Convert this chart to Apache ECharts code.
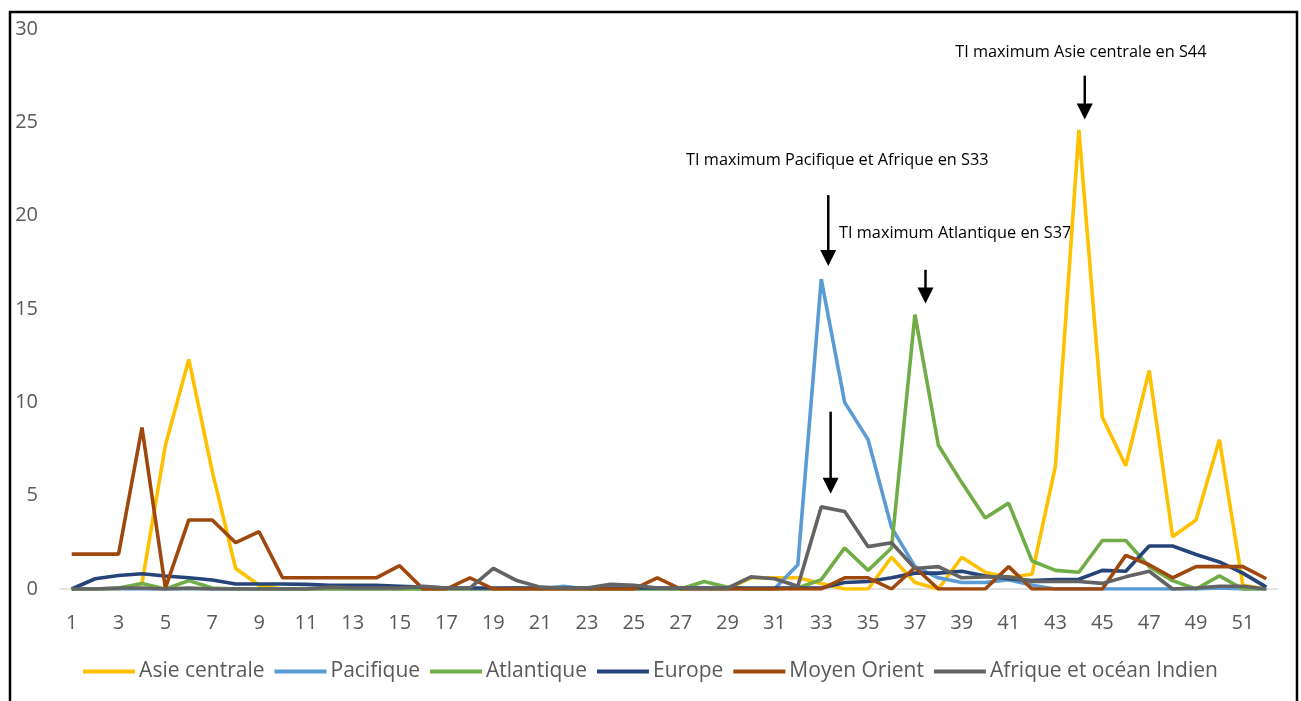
<!DOCTYPE html>
<html>
<head>
<meta charset="utf-8">
<script src="https://cdn.jsdelivr.net/npm/echarts@6/dist/echarts.min.js"></script>
<style>
html,body{margin:0;padding:0;background:#fff;}
#chart{width:1301px;height:701px;}
</style>
</head>
<body>
<div id="chart"></div>
<script>
const weeks = ['1','2','3','4','5','6','7','8','9','10','11','12','13','14','15','16','17','18','19','20','21','22','23','24','25','26','27','28','29','30','31','32','33','34','35','36','37','38','39','40','41','42','43','44','45','46','47','48','49','50','51','52'];

const asieCentrale = [0,0,0,0.3,7.7,12.3,6.3,1.1,0.2,0, 0,0,0,0,0,0,0,0,0,0, 0,0,0,0,0,0,0,0,0,0.6, 0.6,0.6,0.3,0,0,1.7,0.35,0,1.7,0.9, 0.6,0.8,6.6,24.6,9.2,6.6,11.7,2.8,3.7,8.0, 0.2,0];
const pacifique = [0,0,0,0,0,0,0,0,0,0, 0,0,0,0,0,0,0,0,0,0, 0,0.15,0,0,0,0,0,0,0,0, 0,1.3,16.6,10.0,8.0,3.3,1.2,0.6,0.35,0.35, 0.5,0.2,0,0,0,0,0,0,0,0.05, 0,0];
const atlantique = [0,0,0.05,0.3,0,0.45,0.05,0,0,0, 0,0,0,0,0,0,0,0,0,0.05, 0,0,0,0,0,0,0,0.4,0.1,0, 0,0.05,0.5,2.2,1.0,2.2,14.7,7.7,5.7,3.8, 4.6,1.5,1.0,0.9,2.6,2.6,1.2,0.45,0,0.7, 0,0];
const europe = [0,0.55,0.72,0.82,0.7,0.6,0.48,0.27,0.27,0.27, 0.25,0.2,0.2,0.2,0.15,0.1,0.05,0.05,0.05,0.05, 0.05,0.05,0.05,0.05,0.05,0.05,0.05,0.05,0.05,0.05, 0.05,0.05,0.05,0.35,0.4,0.6,0.85,0.85,0.95,0.7, 0.55,0.45,0.5,0.52,1.0,0.95,2.3,2.3,1.85,1.45, 0.85,0.1];
const moyenOrient = [1.87,1.87,1.87,8.65,0.05,3.7,3.7,2.48,3.07,0.6, 0.6,0.6,0.6,0.6,1.25,0,0,0.6,0,0, 0,0,0,0,0,0.6,0,0,0,0, 0,0,0,0.6,0.6,0,1.15,0,0,0, 1.2,0,0,0,0,1.8,1.3,0.6,1.2,1.2, 1.2,0.55];
const afrique = [0,0,0.05,0.05,0,0.05,0,0,0,0, 0,0.1,0.05,0.05,0.05,0.15,0.05,0.05,1.1,0.45, 0.1,0.05,0.05,0.25,0.2,0.05,0.05,0.05,0.05,0.65, 0.55,0.15,4.4,4.15,2.27,2.48,1.1,1.2,0.6,0.65, 0.65,0.4,0.4,0.4,0.3,0.65,0.95,0,0.05,0.15, 0.15,0];

const seriesNames = ['Asie centrale','Pacifique','Atlantique','Europe','Moyen Orient','Afrique et océan Indien'];
const seriesData = [asieCentrale, pacifique, atlantique, europe, moyenOrient, afrique];
const colors = ['#FFC000','#5B9BD5','#70AD47','#264478','#9E480E','#636363'];

const yTicks = [0,5,10,15,20,25,30];

// annotations: arrows (week position, top value, tip value) and texts (left week position, value)
const arrows = [
  {week:33.3, from:21.1, to:17.3},
  {week:33.4, from:9.5, to:5.1},
  {week:37.45, from:17.1, to:15.3},
  {week:44.25, from:27.5, to:25.15}
];
const notes = [
  {text:'TI maximum Asie centrale en S44', week:38.72, value:28.76},
  {text:'TI maximum Pacifique et Afrique en S33', week:27.23, value:22.98},
  {text:'TI maximum Atlantique en S37', week:33.76, value:19.07}
];

const FONT = '"Open Sans", sans-serif';
const chart = echarts.init(document.getElementById('chart'));

chart.setOption({
  animation:false,
  backgroundColor:'#fff',
  color: colors,
  grid:{left:60, right:23, top:29, bottom:112, containLabel:false},
  legend:{
    top:656, left:'center',
    icon:'rect', itemWidth:52, itemHeight:4, itemGap:10,
    textStyle:{fontFamily:FONT, fontSize:21, color:'#595959', padding:[0,0,0,-1]},
    data: seriesNames
  },
  xAxis:{
    type:'category', data: weeks, boundaryGap:true,
    axisLine:{show:true, lineStyle:{color:'#D9D9D9', width:1.5}},
    axisTick:{show:false},
    axisLabel:{interval:1, fontFamily:FONT, fontSize:20, color:'#595959', margin:24}
  },
  yAxis:{
    type:'value', min:yTicks[0], max:yTicks[yTicks.length-1], interval:5,
    axisLine:{show:false}, axisTick:{show:false}, splitLine:{show:false},
    axisLabel:{fontFamily:FONT, fontSize:20, color:'#595959', margin:22}
  },
  series: seriesNames.map((n,i)=>({
    name:n, type:'line', data:seriesData[i], showSymbol:false, symbol:'none',
    lineStyle:{width:3.6, color:colors[i]}, itemStyle:{color:colors[i]}
  }))
});

function px(week, val){
  const i = Math.floor(week) - 1;
  const f = week - Math.floor(week);
  const a = chart.convertToPixel({xAxisIndex:0, yAxisIndex:0}, [i, val]);
  const b = chart.convertToPixel({xAxisIndex:0, yAxisIndex:0}, [i+1, val]);
  return [a[0] + f*(b[0]-a[0]), a[1]];
}

const graphics = [];
graphics.push({type:'rect', shape:{x:10, y:12, width:1287, height:720}, style:{fill:'none', stroke:'#000', lineWidth:2.5}, silent:true});
arrows.forEach(a=>{
  const p1 = px(a.week, a.from);
  const p2 = px(a.week, a.to);
  const head = 16;
  graphics.push({type:'line', shape:{x1:p1[0], y1:p1[1], x2:p2[0], y2:p2[1]-head+2}, style:{stroke:'#000', lineWidth:2.5}, silent:true});
  graphics.push({type:'polygon', shape:{points:[[p2[0]-8, p2[1]-head],[p2[0]+8, p2[1]-head],[p2[0], p2[1]]]}, style:{fill:'#000'}, silent:true});
});
notes.forEach(n=>{
  const p = px(n.week, n.value);
  graphics.push({type:'text', x:p[0], y:p[1], style:{text:n.text, fill:'#000', font:'16.3px "Open Sans", sans-serif', textAlign:'left', textVerticalAlign:'middle'}, silent:true});
});
chart.setOption({graphic: graphics});
</script>
</body>
</html>
